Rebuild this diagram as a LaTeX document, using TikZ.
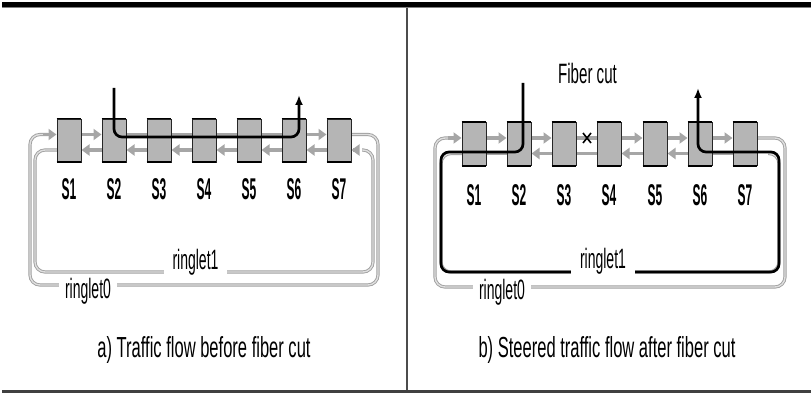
\documentclass[tikz,border=0pt]{standalone}
\usepackage{fontspec}
\setmainfont{Liberation Sans}
\newfontfamily\capfont{Liberation Sans}[FakeStretch=0.57]
\newfontfamily\labfont{Liberation Sans}[FakeStretch=0.40]
\newfontfamily\ringfont{Liberation Sans}[FakeStretch=0.50]
\newfontfamily\cutfont{Liberation Sans}[FakeStretch=0.54]
\usetikzlibrary{arrows.meta}
\tikzset{
  stn/.style={draw=black!85, line width=0.8pt, fill=gray!58, minimum width=24pt, minimum height=43pt, inner sep=0pt},
  stnlab/.style={font=\labfont\bfseries\fontsize{30pt}{30pt}\selectfont, inner sep=0pt},
  lane/.style={gray!70, line width=3.2pt},
  larr/.style={lane, -{Triangle[length=8pt,width=11pt]}},
  ring/.style={draw=gray!75, double=gray!25, double distance=1.4pt, line width=0.9pt, rounded corners=10pt},
  blk/.style={black, line width=2.7pt, rounded corners=8pt},
  blkarr/.style={blk, -{Latex[length=10pt,width=8pt]}},
  ringlab/.style={font=\ringfont\fontsize{28pt}{28pt}\selectfont, fill=white, inner ysep=0pt},
  caplab/.style={font=\capfont\fontsize{29pt}{29pt}\selectfont, inner sep=0pt},
}
\begin{document}
\begin{tikzpicture}[x=1pt,y=-1pt]
\useasboundingbox (0,0) rectangle (811,395);
% frame
\draw[line width=5pt] (2,4.5) -- (811,4.5);
\draw[gray, line width=1pt] (2,8) -- (811,8);
\draw[black!75, line width=3pt] (2,391) -- (811,391);
\draw[black!70, line width=1.5pt] (407,8) -- (407,390);

% ================= panel a =================
\foreach \i/\x in {1/69,2/114,3/159,4/204,5/249,6/294,7/339}{
  \coordinate (a\i) at (\x,140.5);
}
% rings
\draw[ring] ([yshift=6pt]a7.center) ++(12,0) -- (378,134.5) -- (378,285) -- (30,285) -- (30,134.5) -- (48,134.5);
\draw[ring] ([yshift=-9.5pt]a1.center) ++(-12,0) -- (35,150) -- (35,272) -- (373,272) -- (373,150) -- (362,150);
% lanes
\draw[larr] ([shift={(-26,6pt)}]a1.center) -- ([shift={(-12.5,6pt)}]a1.center);
\draw[larr] ([shift={(14,-9.5pt)}]a7.center) -- ([shift={(12.5,-9.5pt)}]a7.center);
\draw[larr] ([shift={(12,6pt)}]a1.center) -- ([shift={(-12.5,6pt)}]a2.center);
\draw[lane] ([shift={(12,6pt)}]a2.center) -- ([shift={(-12,6pt)}]a6.center);
\draw[larr] ([shift={(12,6pt)}]a6.center) -- ([shift={(-12.5,6pt)}]a7.center);
\foreach \i/\j in {2/1,3/2,4/3,5/4,6/5,7/6}{
  \draw[larr] ([shift={(-12,-9.5pt)}]a\i.center) -- ([shift={(12.5,-9.5pt)}]a\j.center);
}
% stations
\foreach \i in {1,...,7}{
  \node[stn] (sa\i) at (a\i) {};
  \draw[line width=1.8pt] (sa\i.north west) -- (sa\i.north east);
  \draw[line width=1.8pt] (sa\i.south west) -- (sa\i.south east);
  \node[stnlab] (la\i) at ([yshift=-48.5pt]a\i) {S\i};
}
% traffic path
\coordinate (tA) at (114,88);
\coordinate (hA) at (299,95);
\draw[blkarr] (tA) -- (tA |- 0,137) -- (hA |- 0,137) -- (hA);
% ring labels
\node[ringlab, inner xsep=9pt] (r1a) at (195.5,262) {ringlet1};
\node[ringlab, inner xsep=6pt] (r0a) at (88,291) {ringlet0};
\node[caplab] (capa) at (204,350) {a) Traffic flow before fiber cut};

% ================= panel b =================
\foreach \i/\x in {1/474,2/519,3/564,4/609,5/655,6/700,7/745}{
  \coordinate (b\i) at (\x,144);
}
\draw[ring] ([yshift=6pt]b7.center) ++(12,0) -- (785,138) -- (785,287) -- (435,287) -- (435,138) -- (453,138);
\draw[ring] ([yshift=-9.5pt]b1.center) ++(-12,0) -- (441,153.5) -- (441,272) -- (779,272) -- (779,153.5) -- (768,153.5);
% lanes
\draw[larr] ([shift={(-26,6pt)}]b1.center) -- ([shift={(-12.5,6pt)}]b1.center);
\foreach \i/\j in {1/2,2/3,4/5,5/6,6/7}{
  \draw[larr] ([shift={(12,6pt)}]b\i.center) -- ([shift={(-12.5,6pt)}]b\j.center);
}
\draw[lane] ([shift={(12,6pt)}]b3.center) -- ([shift={(-12,6pt)}]b4.center);
\draw[lane] ([shift={(12,-9.5pt)}]b3.center) -- ([shift={(-12,-9.5pt)}]b4.center);
\draw[lane] ([shift={(12,-9.5pt)}]b1.center) -- ([shift={(-12,-9.5pt)}]b2.center);
\draw[lane] ([shift={(12,-9.5pt)}]b6.center) -- ([shift={(-12,-9.5pt)}]b7.center);
\foreach \i/\j in {3/2,5/4,6/5}{
  \draw[larr] ([shift={(-12,-9.5pt)}]b\i.center) -- ([shift={(12.5,-9.5pt)}]b\j.center);
}
% stations
\foreach \i in {1,...,7}{
  \node[stn] (sb\i) at (b\i) {};
  \draw[line width=1.8pt] (sb\i.north west) -- (sb\i.north east);
  \draw[line width=1.8pt] (sb\i.south west) -- (sb\i.south east);
  \node[stnlab] (lb\i) at ([yshift=-51pt]b\i) {S\i};
}
% fiber cut mark
\coordinate (cut) at (587,138);
\draw[line width=1.6pt] ([shift={(-4,-5)}]cut) -- ([shift={(4,5)}]cut);
\draw[line width=1.6pt] ([shift={(4,-5)}]cut) -- ([shift={(-4,5)}]cut);
\node[font=\cutfont\fontsize{28pt}{28pt}\selectfont, inner sep=0pt] (cutlab) at (587.5,73) {Fiber cut};
% steered traffic path
\coordinate (tB) at (523,83);
\coordinate (hB) at (698,88);
\draw[blkarr] (tB) -- (tB |- 0,152) -- (441,152) -- (441,272) -- (779,272) -- (779,152) -- (hB |- 0,152) -- (hB);
% ring labels
\node[ringlab, inner xsep=9pt] (r1b) at (603,261) {ringlet1};
\node[ringlab, inner xsep=6pt] (r0b) at (502,292) {ringlet0};
\node[caplab] (capb) at (607,350) {b) Steered traffic flow after fiber cut};
\end{tikzpicture}
\end{document}
